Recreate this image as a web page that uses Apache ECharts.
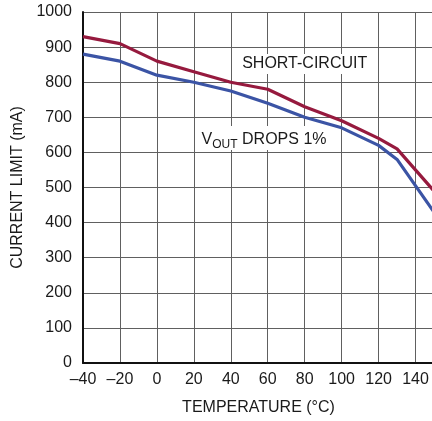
<!DOCTYPE html>
<html>
<head>
<meta charset="utf-8">
<script src="https://cdn.jsdelivr.net/npm/echarts@6/dist/echarts.min.js"></script>
<style>
  html, body { margin: 0; padding: 0; background: #fff; }
  #chart { width: 432px; height: 421px; }
</style>
</head>
<body>
<div id="chart"></div>
<script>
// temperature points (°C)
var temps = [-40, -20, 0, 20, 40, 60, 80, 100, 120, 130, 150];
// short-circuit current limit (mA)
var shortCircuit = [930, 910, 860, 830, 800, 780, 730, 690, 640, 610, 490];
// Vout drops 1% current limit (mA)
var voutDrops = [880, 860, 820, 800, 775, 740, 700, 670, 620, 580, 430];
// annotation anchors in data units
var labelShort = [80, 852];
var labelVout = [58, 641];

function pairs(xs, ys) {
    var out = [];
    for (var i = 0; i < xs.length; i++) out.push([xs[i], ys[i]]);
    return out;
}

var chart = echarts.init(document.getElementById('chart'));
var font = 'Liberation Sans, Arial, sans-serif';

var option = {
    animation: false,
    grid: { left: 83, top: 12, right: -2, bottom: 58, outerBoundsMode: 'none', containLabel: false },
    xAxis: {
        type: 'value',
        min: -40, max: 150, interval: 20,
        name: 'TEMPERATURE (°C)',
        nameLocation: 'middle',
        nameGap: 37,
        nameTextStyle: { fontFamily: font, fontSize: 16, color: '#1a1a1a' },
        axisLine: { show: true, onZero: false, lineStyle: { color: '#111', width: 2 } },
        axisTick: { show: false },
        axisLabel: {
            fontFamily: font, fontSize: 16, color: '#1a1a1a', margin: 9,
            formatter: function (v) { return v < 0 ? '\u2013' + (-v) : String(v); }
        },
        splitLine: { show: true, lineStyle: { color: '#606060', width: 1 } }
    },
    yAxis: {
        type: 'value',
        min: 0, max: 1000, interval: 100,
        name: 'CURRENT LIMIT (mA)',
        nameLocation: 'middle',
        nameGap: 53,
        nameTextStyle: { fontFamily: font, fontSize: 16, color: '#1a1a1a' },
        axisLine: { show: true, onZero: false, lineStyle: { color: '#111', width: 2 } },
        axisTick: { show: false },
        axisLabel: {
            fontFamily: font, fontSize: 16, color: '#1a1a1a', margin: 11,
            formatter: function (v) { return String(v); }
        },
        splitLine: { show: true, lineStyle: { color: '#606060', width: 1 } }
    },
    series: [
        {
            name: 'SHORT-CIRCUIT',
            type: 'line',
            data: pairs(temps, shortCircuit),
            symbol: 'none',
            lineStyle: { color: '#961a3e', width: 3.2 },
            markPoint: {
                symbol: 'rect', symbolSize: 0,
                data: [{ coord: labelShort }],
                label: {
                    show: true, position: 'inside',
                    formatter: 'SHORT-CIRCUIT',
                    fontFamily: font, fontSize: 16, color: '#1a1a1a',
                    backgroundColor: '#fff', padding: [2, 3]
                }
            }
        },
        {
            name: 'VOUT DROPS 1%',
            type: 'line',
            data: pairs(temps, voutDrops),
            symbol: 'none',
            lineStyle: { color: '#3b54a5', width: 3.2 },
            markPoint: {
                symbol: 'rect', symbolSize: 0,
                data: [{ coord: labelVout }],
                label: {
                    show: true, position: 'inside',
                    formatter: '{a|V}{b|OUT}{a| DROPS 1%}',
                    backgroundColor: '#fff', padding: [2, 3],
                    rich: {
                        a: { fontFamily: font, fontSize: 16, color: '#1a1a1a', verticalAlign: 'bottom', lineHeight: 20 },
                        b: { fontFamily: font, fontSize: 12, color: '#1a1a1a', verticalAlign: 'bottom', lineHeight: 12, padding: [0, 0, -3, 0] }
                    }
                }
            }
        }
    ]
};
chart.setOption(option);
</script>
</body>
</html>
